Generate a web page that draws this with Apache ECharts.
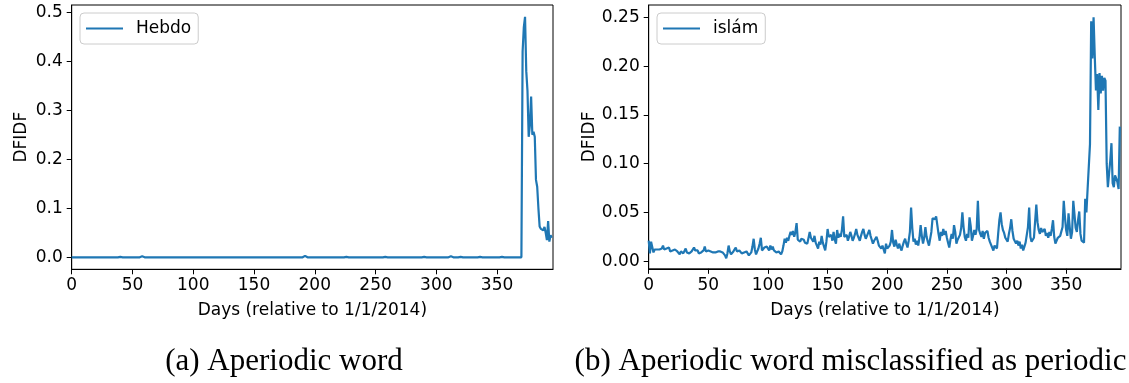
<!DOCTYPE html>
<html><head><meta charset="utf-8">
<script src="https://cdn.jsdelivr.net/npm/echarts@6/dist/echarts.min.js"></script>
<style>html,body{margin:0;padding:0;background:#fff}#c{width:1129px;height:383px}</style>
</head><body><div id="c"></div>
<script>
// ---- data (days 0..395) ----
const hebdo = [
0,0,0,0,0,0,0,0,0,0,0,0,0,0,0,0,0,0.001,0,0,
0,0,0,0,0,0,0,0,0,0.002,0,0,0,0,0,0,0,0,0,0,
0.001,0,0,0,0,0,0,0,0,0,0,0,0,0,0,0,0,0,0.002,0,
0,0,0,0,0,0,0,0,0,0,0,0,0,0,0,0,0,0,0,0,
0,0,0,0,0,0,0,0,0,0,0,0,0,0,0,0,0,0,0,0,
0,0,0,0,0,0,0,0,0,0,0,0,0,0,0,0,0,0,0,0,
0,0,0,0.001,0,0,0,0,0,0,0,0,0,0,0,0,0,0,0,0,
0,0,0,0,0,0,0,0,0,0,0,0,0,0,0,0,0,0,0,0,
0,0,0,0,0,0,0,0,0,0,0,0,0,0,0,0,0,0,0,0,
0,0,0,0,0,0,0,0,0,0,0,0,0.003,0.001,0,0,0,0,0,0,
0,0,0,0,0,0,0,0,0,0,0,0,0,0,0,0,0,0,0,0,
0,0,0,0,0,0.003,0.001,0,0,0,0,0,0,0,0,0,0,0,0,0,
0,0,0,0,0,0,0,0,0,0,0,0,0,0,0,0,0,0,0.001,0,
0,0,0,0,0,0,0,0,0,0,0,0,0,0,0,0,0,0,0,0,
0,0,0,0,0,0,0,0,0,0,0.001,0,0,0,0,0,0,0,0,0,
0,0,0,0,0,0,0,0,0,0,0,0,0.002,0,0,0,0,0,0,0,
0.001,0,0,0,0,0,0,0,0,0,0,0,0,0,0,0,0.001,0,0,0,
0,0,0,0,0,0,0,0,0,0,0,0,0,0,0.001,0,0,0.003,0,0,
0,0,0,0,0,0,0,0,0,0,0,0.42,0.47,0.491,0.38,0.34,0.246,0.27,0.328,0.25,
0.256,0.246,0.158,0.144,0.100,0.063,0.058,0.060,0.055,0.062,0.050,0.035,0.074,0.032,0.045,0.040
];
const islam = [
0.021,0.008,0.020,0.021,0.009,0.012,0.011,0.012,0.010,0.012,
0.011,0.013,0.016,0.012,0.010,0.013,0.011,0.014,0.010,0.012,
0.011,0.009,0.012,0.014,0.010,0.009,0.007,0.010,0.009,0.008,
0.010,0.013,0.009,0.011,0.008,0.007,0.010,0.009,0.014,0.011,
0.010,0.011,0.008,0.010,0.009,0.008,0.011,0.015,0.010,0.008,
0.011,0.009,0.010,0.008,0.009,0.010,0.009,0.011,0.010,0.012,
0.010,0.011,0.009,0.010,0.006,0.003,0.008,0.016,0.010,0.007,
0.008,0.010,0.012,0.014,0.010,0.009,0.011,0.010,0.008,0.007,
0.009,0.011,0.010,0.008,0.006,0.005,0.009,0.015,0.023,0.012,
0.007,0.010,0.013,0.018,0.024,0.011,0.010,0.014,0.012,0.015,
0.013,0.011,0.016,0.012,0.015,0.011,0.012,0.009,0.011,0.010,
0.009,0.007,0.010,0.016,0.023,0.019,0.024,0.021,0.026,0.030,
0.027,0.031,0.025,0.030,0.039,0.022,0.024,0.020,0.023,0.021,
0.022,0.019,0.021,0.018,0.020,0.030,0.024,0.022,0.020,0.026,
0.019,0.016,0.013,0.020,0.017,0.026,0.019,0.015,0.011,0.020,
0.033,0.025,0.023,0.027,0.021,0.030,0.022,0.018,0.032,0.024,
0.028,0.025,0.032,0.046,0.025,0.023,0.027,0.021,0.025,0.030,
0.026,0.021,0.024,0.028,0.033,0.027,0.024,0.021,0.026,0.030,
0.033,0.027,0.023,0.026,0.029,0.032,0.026,0.022,0.018,0.021,
0.019,0.025,0.021,0.016,0.018,0.013,0.016,0.012,0.008,0.018,
0.013,0.011,0.016,0.020,0.032,0.019,0.015,0.022,0.017,0.013,
0.018,0.014,0.011,0.016,0.020,0.023,0.018,0.014,0.021,0.030,
0.055,0.034,0.020,0.023,0.017,0.021,0.016,0.024,0.037,0.026,
0.018,0.024,0.035,0.025,0.020,0.016,0.014,0.030,0.044,0.045,
0.043,0.046,0.045,0.028,0.021,0.030,0.026,0.033,0.027,0.031,
0.024,0.019,0.014,0.022,0.028,0.023,0.037,0.030,0.018,0.022,
0.020,0.027,0.034,0.050,0.035,0.025,0.021,0.028,0.024,0.045,
0.036,0.021,0.026,0.032,0.027,0.033,0.062,0.032,0.028,0.025,
0.031,0.023,0.029,0.027,0.031,0.024,0.020,0.017,0.014,0.011,
0.016,0.018,0.013,0.028,0.042,0.050,0.038,0.032,0.029,0.024,
0.025,0.020,0.028,0.034,0.043,0.031,0.023,0.025,0.018,0.021,
0.016,0.020,0.013,0.017,0.011,0.015,0.019,0.021,0.035,0.055,
0.025,0.020,0.022,0.024,0.025,0.058,0.040,0.032,0.028,0.034,
0.030,0.028,0.033,0.026,0.029,0.024,0.030,0.026,0.033,0.042,
0.025,0.018,0.020,0.024,0.022,0.026,0.028,0.035,0.062,0.045,
0.032,0.026,0.049,0.035,0.023,0.030,0.062,0.048,0.034,0.030,
0.042,0.051,0.028,0.021,0.020,0.019,0.064,0.050,0.074,0.076,
0.120,0.246,0.208,0.250,0.210,0.175,0.192,0.155,0.193,0.172,
0.190,0.175,0.188,0.185,0.100,0.076,0.090,0.103,0.121,0.080,
0.076,0.088,0.085,0.081,0.074,0.138
];
const seriesNames = ['Hebdo', 'islám'];
const xTicks = [0, 50, 100, 150, 200, 250, 300, 350];
const yTicksA = [0, 0.1, 0.2, 0.3, 0.4, 0.5];
const yTicksB = [0, 0.05, 0.10, 0.15, 0.20, 0.25];
const xTitle = 'Days (relative to 1/1/2014)';
const yTitle = 'DFIDF';
const captions = ['(a) Aperiodic word', '(b) Aperiodic word misclassified as periodic'];

const FONT = 'DejaVu Sans';
const FS = 17;
const BLUE = '#1f77b4';

function xAxis(gi) {
  return {
    type: 'value', gridIndex: gi, min: 0, max: 396,
    name: xTitle, nameLocation: 'middle', nameGap: 33,
    nameTextStyle: {fontFamily: FONT, fontSize: FS, color: '#000'},
    axisLine: {show: true, onZero: false, lineStyle: {color: '#000', width: 1}},
    axisTick: {show: true, length: 5, customValues: xTicks, lineStyle: {color: '#000'}},
    axisLabel: {customValues: xTicks, fontFamily: FONT, fontSize: FS, color: '#000', margin: 8},
    splitLine: {show: false}
  };
}
function yAxis(gi, min, max, ticks, dec) {
  return {
    type: 'value', gridIndex: gi, min: min, max: max,
    name: yTitle, nameLocation: 'middle', nameGap: 42,
    nameTextStyle: {fontFamily: FONT, fontSize: FS, color: '#000'},
    axisLine: {show: true, onZero: false, lineStyle: {color: '#000', width: 1}},
    axisTick: {show: true, length: 5, customValues: ticks, lineStyle: {color: '#000'}},
    axisLabel: {customValues: ticks, fontFamily: FONT, fontSize: FS, color: '#000', margin: 9,
      formatter: v => v.toFixed(dec)},
    splitLine: {show: false}
  };
}
function legend(name, left) {
  return {
    data: [name], left: left, top: 13, orient: 'vertical',
    icon: 'rect', itemWidth: 37, itemHeight: 2.2,
    backgroundColor: 'rgba(255,255,255,0.8)', borderColor: '#cccccc', borderWidth: 1, borderRadius: 4,
    padding: [6, 7, 6, 6],
    textStyle: {fontFamily: FONT, fontSize: FS, color: '#000', padding: [0, 0, 0, 8], lineHeight: 19}
  };
}

const chart = echarts.init(document.getElementById('c'), null, {renderer: 'canvas'});
chart.setOption({
  animation: false,
  backgroundColor: '#fff',
  grid: [
    {left: 71.7, top: 5, width: 481.3, height: 264.3, show: true, borderColor: '#000', borderWidth: 1},
    {left: 648.7, top: 5, width: 472.3, height: 263.8, show: true, borderColor: '#000', borderWidth: 1}
  ],
  xAxis: [xAxis(0), xAxis(1)],
  yAxis: [yAxis(0, -0.0245, 0.515, yTicksA, 1), yAxis(1, -0.0078, 0.2627, yTicksB, 2)],
  legend: [legend(seriesNames[0], 80), legend(seriesNames[1], 657)],
  series: [
    {name: seriesNames[0], type: 'line', xAxisIndex: 0, yAxisIndex: 0, symbol: 'none', showSymbol: false,
     lineStyle: {color: BLUE, width: 2.2}, itemStyle: {color: BLUE},
     data: hebdo.map((v, i) => [i, v])},
    {name: seriesNames[1], type: 'line', xAxisIndex: 1, yAxisIndex: 1, symbol: 'none', showSymbol: false,
     lineStyle: {color: BLUE, width: 2.2}, itemStyle: {color: BLUE},
     data: islam.map((v, i) => [i, v])}
  ],
  graphic: [
    {type: 'text', x: 284, y: 362, style: {text: captions[0], font: '31px "Liberation Serif"', fill: '#000', textAlign: 'center', textVerticalAlign: 'middle'}},
    {type: 'text', x: 850.5, y: 362, style: {text: captions[1], font: '31px "Liberation Serif"', fill: '#000', textAlign: 'center', textVerticalAlign: 'middle'}}
  ]
});
</script></body></html>
